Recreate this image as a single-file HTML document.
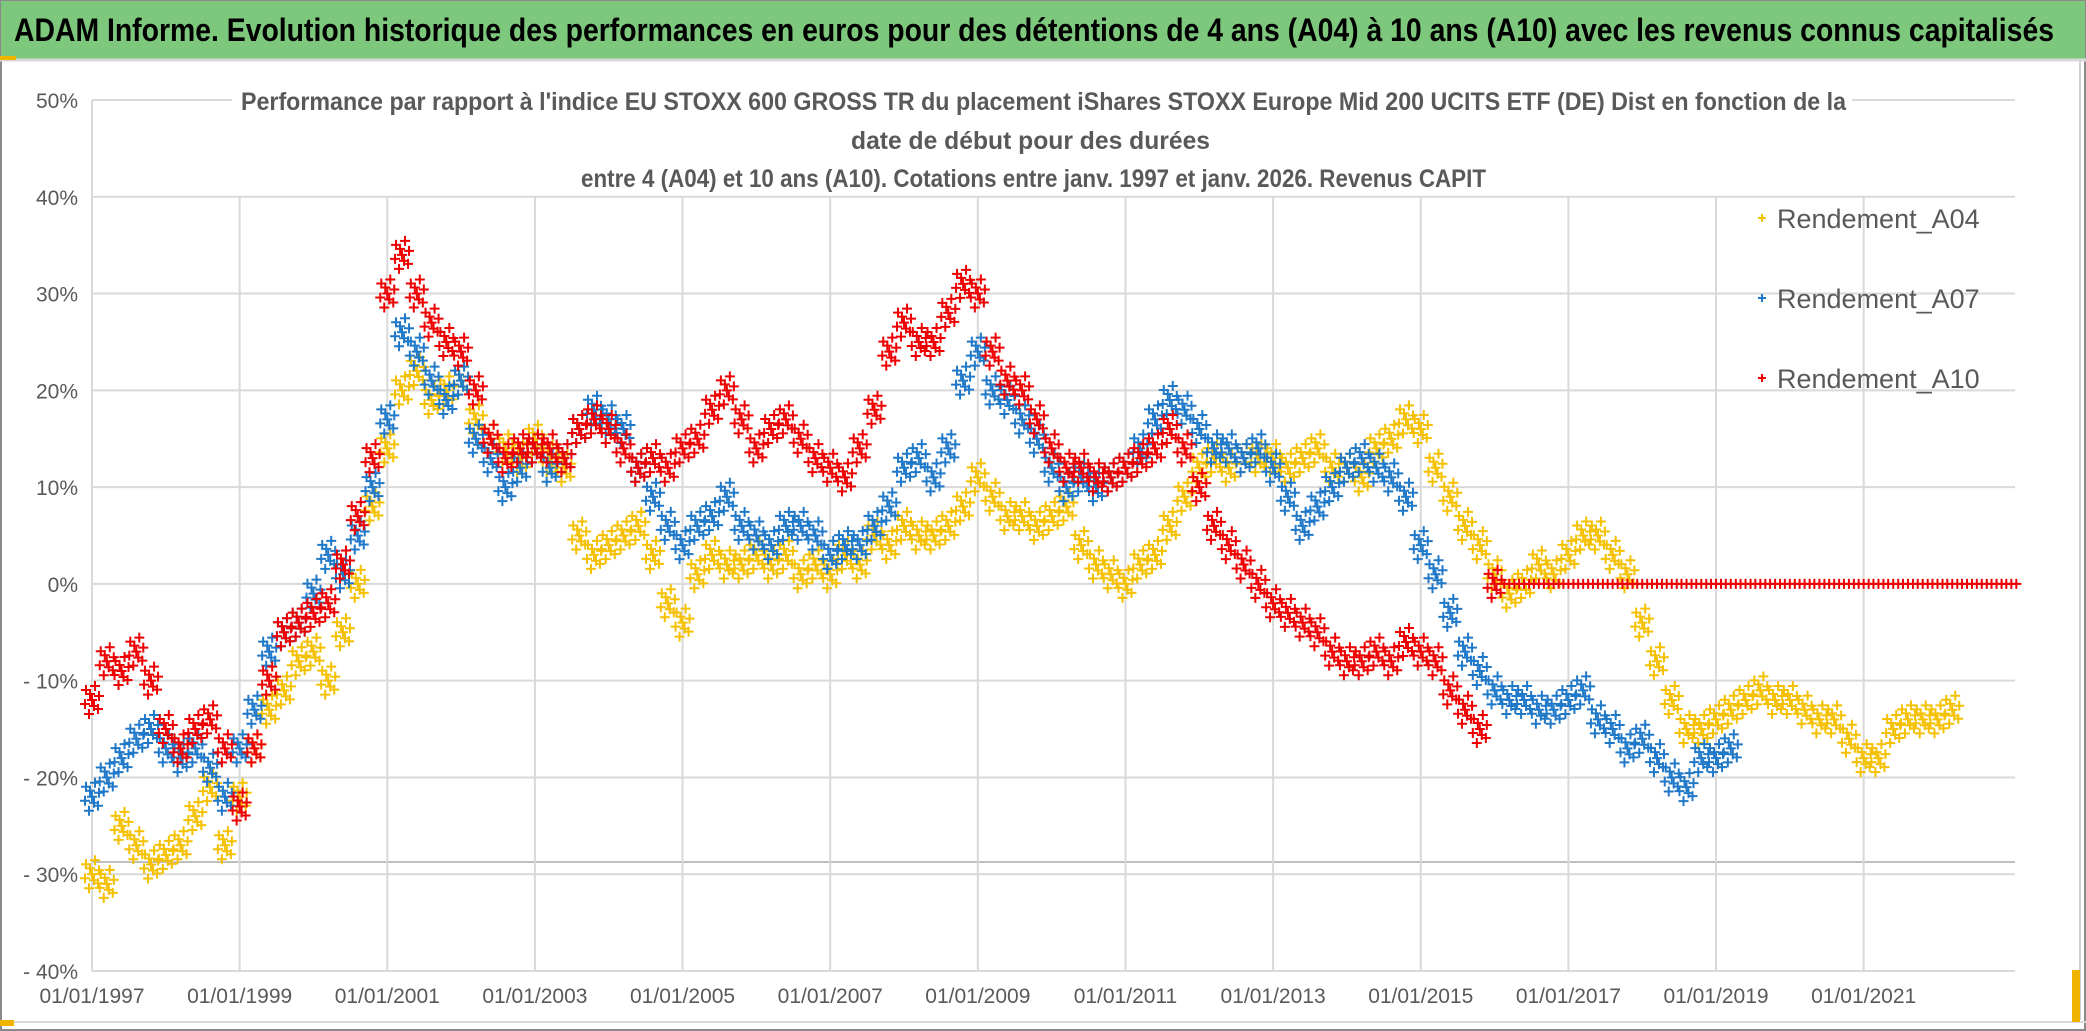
<!DOCTYPE html>
<html><head><meta charset="utf-8"><style>
html,body{margin:0;padding:0;background:#fff;}
svg{display:block;font-family:"Liberation Sans",sans-serif;}
</style></head><body>
<svg id="chart" width="2086" height="1031" viewBox="0 0 2086 1031">
<rect x="0" y="0" width="2086" height="1031" fill="#fff"/>
<rect x="1" y="1" width="2084" height="1029" fill="none" stroke="#8a8a8a" stroke-width="2"/>
<rect x="1" y="1" width="2084" height="58" fill="#7dc87d"/>
<line x1="0" y1="60" x2="2086" y2="60" stroke="#d8d8d8" stroke-width="3"/>
<rect x="0" y="56" width="16" height="4" fill="#f0b400"/>
<text x="14" y="41" font-size="32" font-weight="bold" fill="#000" textLength="2040" lengthAdjust="spacingAndGlyphs">ADAM Informe. Evolution historique des performances en euros pour des détentions de 4 ans (A04) à 10 ans (A10) avec les revenus connus capitalisés</text>
<line x1="2080" y1="60" x2="2080" y2="1020" stroke="#d0d0d0" stroke-width="2"/>
<line x1="0" y1="1022" x2="2086" y2="1022" stroke="#d8d8d8" stroke-width="2"/>
<rect x="2072" y="970" width="8" height="52" fill="#f0b400"/>
<rect x="0" y="1020" width="14" height="6" fill="#f0b400"/>
<g id="grid"></g>
<g id="marks"></g>
<g id="titles">
<rect x="232" y="84" width="1620" height="108" fill="#fff"/>
<text x="241" y="110" font-size="25" font-weight="bold" fill="#595959" textLength="1605" lengthAdjust="spacingAndGlyphs">Performance par rapport à l'indice EU STOXX 600 GROSS TR  du placement iShares STOXX Europe Mid 200 UCITS ETF (DE) Dist en fonction de la</text>
<text x="851" y="149" font-size="25" font-weight="bold" fill="#595959" textLength="359" lengthAdjust="spacingAndGlyphs">date de début pour des durées</text>
<text x="581" y="187" font-size="25" font-weight="bold" fill="#595959" textLength="905" lengthAdjust="spacingAndGlyphs">entre 4 (A04) et 10 ans (A10). Cotations entre janv. 1997 et janv. 2026. Revenus CAPIT</text>
</g>
<g id="legend"></g>
</svg>
<script>
const yTicks=[50,40,30,20,10,0,-10,-20,-30,-40];
const yTickLabels=["50%","40%","30%","20%","10%","0%","- 10%","- 20%","- 30%","- 40%"];
const xTickYears=[1997,1999,2001,2003,2005,2007,2009,2011,2013,2015,2017,2019,2021];
const xTickLabels=["01/01/1997","01/01/1999","01/01/2001","01/01/2003","01/01/2005","01/01/2007","01/01/2009","01/01/2011","01/01/2013","01/01/2015","01/01/2017","01/01/2019","01/01/2021"];
const seriesNames=["Rendement_A04","Rendement_A07","Rendement_A10"];
const seriesStart=[1997,1997,1997];
const seriesStep=[0.2,0.2,0.2];
const a04=[-30,-31,-25,-27,-29,-28,-27,-24,-21,-27,-22,-17,-13,-11,-8,-7,-10,-5,0,8,14,20,22,19,20,21,17,15,14,13,15,13,12,5,3,4,5,6,3,-2,-4,1,3,2,2,3,2,3,1,2,1,3,2,5,4,6,5,5,6,8,11,9,7,7,6,7,8,4,2,1,0,2,3,6,9,12,13,12,13,13,13,12,13,14,12,12,11,14,15,17,16,12,9,6,4,1,-1,0,2,1,3,5,5,3,1,-4,-8,-12,-15,-15,-14,-13,-12,-11,-12,-12,-13,-14,-14,-16,-18,-18,-15,-14,-14,-14,-13];
const a07=[-22,-20,-18,-16,-15,-17,-18,-17,-19,-22,-17,-13,-7,-5,-4,-1,3,1,5,10,17,26,24,21,19,21,15,13,10,12,14,12,13,16,18,17,16,12,9,6,4,6,7,9,6,5,4,6,6,5,3,4,4,6,8,12,13,11,14,21,24,20,19,17,15,12,10,11,10,11,12,14,17,19,18,16,14,14,13,14,12,9,6,8,10,12,13,12,11,9,4,1,-3,-7,-9,-11,-12,-12,-13,-13,-12,-11,-14,-15,-17,-16,-18,-20,-21,-18,-18,-17];
const a10=[-12,-8,-9,-7,-10,-15,-17,-15,-14,-17,-23,-17,-10,-5,-4,-3,-2,2,7,13,30,34,30,27,25,24,20,15,13,14,14,14,13,16,17,16,14,12,13,12,14,15,18,20,17,14,16,17,15,13,12,11,14,18,24,27,25,25,28,31,30,24,21,20,17,14,12,12,11,11,12,13,14,16,14,10,6,4,2,0,-2,-3,-4,-5,-7,-8,-8,-7,-8,-6,-7,-8,-11,-13,-15,0,0,0,0,0,0,0,0,0,0,0,0,0,0,0,0,0,0,0,0,0,0,0,0,0,0,0,0,0,0,0,0,0,0,0,0];
const seriesColors=["#f5c000","#1f78c8","#ee0000"];

const NS="http://www.w3.org/2000/svg";
const L=92,R=2015,T=100,B=971;
const X0=1997,X1=2023.05;
function xs(v){return L+(v-X0)/(X1-X0)*(R-L);}
function ys(v){return T+(50-v)/90*(B-T);}
function mk(tag,attrs,parent){const e=document.createElementNS(NS,tag);for(const k in attrs)e.setAttribute(k,attrs[k]);parent.appendChild(e);return e;}
const grid=document.getElementById('grid');
yTicks.forEach((t,i)=>{
  const ln=mk('line',{x1:L,x2:R,y1:ys(t),y2:ys(t),stroke:'#d9d9d9','stroke-width':2},grid);
  
  
  const tx=mk('text',{x:78,y:ys(t)+8,'text-anchor':'end','font-size':21,fill:'#595959'},grid);
  tx.textContent=yTickLabels[i];
  
  
});
const extra=mk('line',{x1:L,x2:R,y1:862,y2:862,stroke:'#bfbfbf','stroke-width':2},grid);


xTickYears.forEach((t,i)=>{
  const ln=mk('line',{x1:xs(t),x2:xs(t),y1:ys(40),y2:B,stroke:'#d9d9d9','stroke-width':2},grid);
  
  
  const tx=mk('text',{x:xs(t),y:1003,'text-anchor':'middle','font-size':21,fill:'#595959'},grid);
  tx.textContent=xTickLabels[i];
  
  
});
const yax=mk('line',{x1:L,x2:L,y1:T,y2:B,stroke:'#d9d9d9','stroke-width':2},grid);



const marks=document.getElementById('marks');
const offs=[[0,0],[-6,-10],[6,9],[-3,14],[3,-14],[-7,4],[7,-4],[-2,-6],[2,6]];
function plus(g,x,y,s,c,w){
  return mk('path',{d:`M${x-s} ${y}H${x+s}M${x} ${y-s}V${y+s}`,stroke:c,'stroke-width':w,fill:'none'},g);
}
[a04,a07,a10].forEach((arr,si)=>{
  const g=mk('g',{},marks);
  
  
  arr.forEach((v,i)=>{
    const x=xs(seriesStart[si]+i*seriesStep[si]), y=ys(v);
    const isZero=(si===2&&v===0&&i>95);
    const o=isZero?[[0,0],[-5,0],[5,0]]:offs;
    o.forEach(d=>{
      const p=plus(g,x+d[0],y+d[1],5,seriesColors[si],2);
      
      
    });
  });
});

const leg=document.getElementById('legend');
const legY=[218,298,378];
seriesNames.forEach((n,i)=>{
  const g=mk('g',{},leg);
  
  
  plus(g,1762,legY[i],4,seriesColors[i],2);
  const t=mk('text',{x:1777,y:legY[i]+10,'font-size':27,fill:'#595959'},g);
  t.textContent=n;
  
  
});
</script>
</body></html>
